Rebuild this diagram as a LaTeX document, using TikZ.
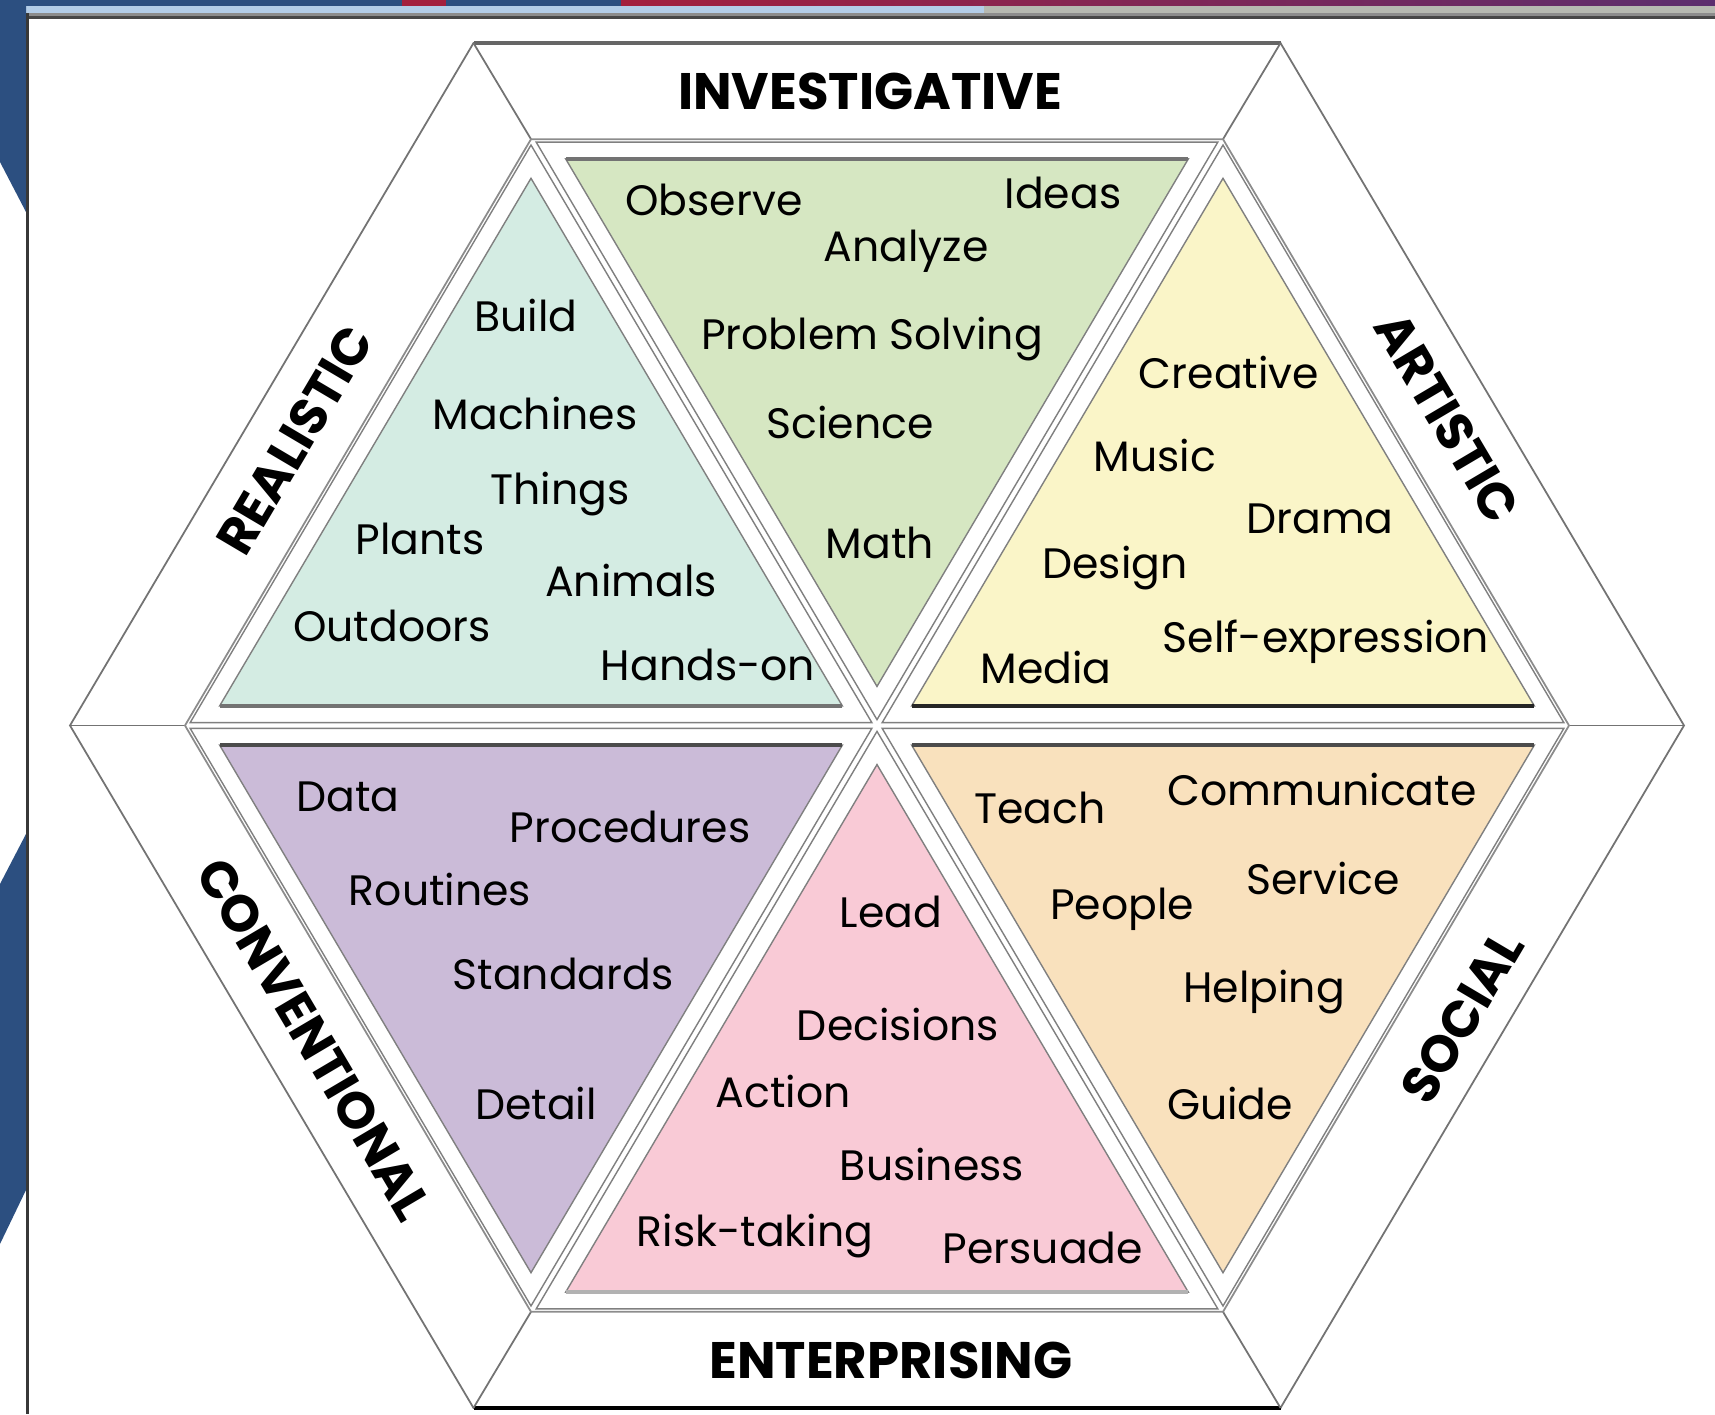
\documentclass[tikz,border=0pt]{standalone}
\usepackage{fontspec}
\setmainfont{Poppins}
\usetikzlibrary{calc}

\definecolor{navy}{HTML}{2C4F80}
\definecolor{crimson}{HTML}{A3203E}
\definecolor{plum}{HTML}{5C2E6E}
\definecolor{skyline}{HTML}{B3CDE8}
\definecolor{greyline}{HTML}{B6B9B1}
\definecolor{realfill}{HTML}{D4ECE3}
\definecolor{invfill}{HTML}{D6E7C2}
\definecolor{artfill}{HTML}{FAF5C8}
\definecolor{convfill}{HTML}{CBBBD8}
\definecolor{entfill}{HTML}{F9CAD6}
\definecolor{socfill}{HTML}{F9E1BD}

\begin{document}
\begin{tikzpicture}[x=0.01cm, y=0.01cm,
        word/.style={font=\fontsize{12.1}{14}\selectfont, inner sep=0pt},
        cat/.style={font=\fontsize{14.6}{16}\selectfont\bfseries, inner sep=0pt},
        rim/.style={draw=black!55, line width=0.5pt},
        cell/.style={draw=black!50, fill=white, line width=0.4pt}]

    \useasboundingbox (0,0) rectangle (1715,1414);
    \fill[white] (0,0) rectangle (1715,1414);

    % slide frame
    \fill[navy] (0,1408) rectangle (621,1414);
    \shade[left color=crimson, right color=plum] (621,1408) rectangle (1715,1414);
    \fill[crimson] (402,1408) rectangle (446,1414);
    \fill[skyline] (26,1401) rectangle (984,1408);
    \fill[greyline] (984,1401) rectangle (1715,1408);
    \fill[black!45] (26,1398) rectangle (1715,1401);
    \fill[black!72] (26,1395) rectangle (1715,1398);
    \fill[navy] (0,1414) -- (26,1414) -- (26,1202) -- (0,1252) -- cycle;
    \fill[navy] (0,530) -- (26,580) -- (26,224) -- (0,170) -- cycle;
    \fill[black!78] (26,0) rectangle (29,1401);

    % hexagon corners
    \coordinate (c) at (877,688.5);
    \foreach \k in {0,...,5}{
        \coordinate (o\k) at ($(c)+({807*cos(60*\k)},{788*sin(60*\k)})$);
        \coordinate (i\k) at ($(c)+({692*cos(60*\k)},{677*sin(60*\k)})$);
    }

    \draw[rim] (o0) -- (o1) -- (o2) -- (o3) -- (o4) -- (o5) -- cycle;
    \draw[black!60, line width=1pt] (o1) -- (o2);
    \draw[black, line width=1.2pt] (o4) -- (o5);
    \foreach \k in {0,...,5}
        \draw[rim] (o\k) -- (i\k);
    \draw[rim, draw=black!45] (i0) -- (i1) -- (i2) -- (i3) -- (i4) -- (i5) -- cycle;

    % white cells
    \foreach \k/\j in {0/1,1/2,2/3,3/4,4/5,5/0}{
        \coordinate (m\k) at ($0.3333*(c)+0.3333*(i\k)+0.3333*(i\j)$);
        \draw[cell] ($(m\k)!0.985!(c)$) -- ($(m\k)!0.985!(i\k)$) -- ($(m\k)!0.985!(i\j)$) -- cycle;
    }

    % coloured triangles
    \foreach \k/\j/\fc/\ea/\eb/\ec in {0/1/artfill/c/i0/black!85, 1/2/invfill/i1/i2/black!55,
            2/3/realfill/c/i3/black!55, 3/4/convfill/c/i3/black!70,
            4/5/entfill/i4/i5/black!30, 5/0/socfill/c/i0/black!70}{
        \filldraw[fill=\fc, draw=black!50, line width=0.4pt] ($(m\k)!0.9!(c)$) -- ($(m\k)!0.9!(i\k)$) -- ($(m\k)!0.9!(i\j)$) -- cycle;
        \draw[\ec, line width=1.1pt] ($(m\k)!0.9!(\ea)$) -- ($(m\k)!0.9!(\eb)$);
    }

    % type names
    \node[cat] (inv) at (870,1323) {INVESTIGATIVE};
    \node[cat] (ent) at (891,54) {ENTERPRISING};
    \node[cat, rotate=59.4] (rea) at (295,974) {REALISTIC};
    \node[cat, rotate=-59.4] (art) at (1447,996) {ARTISTIC};
    \node[cat, rotate=-59.4] (con) at (314,375) {CONVENTIONAL};
    \node[cat, rotate=59.4] (soc) at (1462,397) {SOCIAL};

    % realistic
    \node[word] (build) at (526,1098) {Build};
    \node[word] (machines) at (535,1000) {Machines};
    \node[word] (things) at (560,920) {Things};
    \node[word] (plants) at (420,875) {Plants};
    \node[word] (animals) at (631,833) {Animals};
    \node[word] (outdoors) at (392,788) {Outdoors};
    \node[word] (handson) at (708,749) {Hands-on};

    % investigative
    \node[word] (observe) at (714,1214) {Observe};
    \node[word] (ideas) at (1063,1221) {Ideas};
    \node[word] (analyze) at (906,1163) {Analyze};
    \node[word] (problem) at (872,1075) {Problem Solving};
    \node[word] (science) at (850,991) {Science};
    \node[word] (math) at (880,871) {Math};

    % artistic
    \node[word] (creative) at (1229,1041) {Creative};
    \node[word] (music) at (1155,958) {Music};
    \node[word] (drama) at (1320,895) {Drama};
    \node[word] (design) at (1115,846) {Design};
    \node[word] (selfexp) at (1326,772) {Self-expression};
    \node[word] (media) at (1046,747) {Media};

    % conventional
    \node[word] (data) at (348,617) {Data};
    \node[word] (procedures) at (630,587) {Procedures};
    \node[word] (routines) at (440,525) {Routines};
    \node[word] (standards) at (563,440) {Standards};
    \node[word] (detail) at (536,311) {Detail};

    % enterprising
    \node[word] (lead) at (891,502) {Lead};
    \node[word] (decisions) at (898,390) {Decisions};
    \node[word] (action) at (783,323) {Action};
    \node[word] (business) at (932,250) {Business};
    \node[word] (risk) at (755,178) {Risk-taking};
    \node[word] (persuade) at (1043,166) {Persuade};

    % social
    \node[word] (teach) at (1040,606) {Teach};
    \node[word] (communicate) at (1322,625) {Communicate};
    \node[word] (people) at (1122,505) {People};
    \node[word] (service) at (1323,536) {Service};
    \node[word] (helping) at (1264,422) {Helping};
    \node[word] (guide) at (1230,311) {Guide};
\end{tikzpicture}
\end{document}
